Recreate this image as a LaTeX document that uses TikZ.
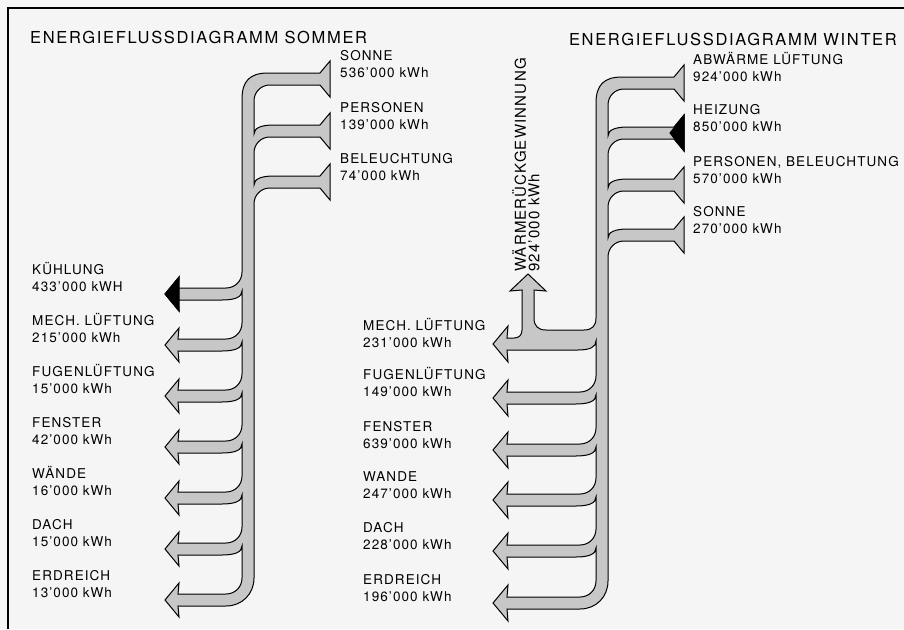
\documentclass[tikz,border=0pt]{standalone}
\usepackage{fontspec}
\setmainfont{TeX Gyre Heros}[LetterSpace=8]
\newfontfamily\titlefont{TeX Gyre Heros}[LetterSpace=10]
\usepackage{tikz}

\tikzset{
  band/.style={draw=black, line width=1pt, fill=black!22},
  blacktip/.style={draw=black, line width=1pt, fill=black},
  flowtext/.style={anchor=base west, align=left, inner sep=0pt,
    font=\fontsize{13.5}{16.5}\selectfont},
  titletext/.style={inner sep=0pt, font=\titlefont\fontsize{16.5}{20}\selectfont},
}

\begin{document}
\begin{tikzpicture}[x=1pt, y=-1pt]
  % paper and frame
  \fill[black!4] (0,0) rectangle (904,629);
  \useasboundingbox (0,0) rectangle (904,629);
  \draw[line width=1.1pt] (8,629) -- (8,8) -- (904,8);

  % titles
  \node[titletext, anchor=base west] (titleS) at (30,43) {ENERGIEFLUSSDIAGRAMM SOMMER};
  \node[titletext, anchor=base east] (titleW) at (897,45) {ENERGIEFLUSSDIAGRAMM WINTER};

  % summer flow: trunk, outlets to the left, sources from the right
  \draw[band] (320,73) -- (268,73) .. controls (250,73) and (242,81) .. (242,99)
    foreach \c in {294,345,396,447,498,549} {
      -- (242,\c-22) .. controls (242,\c-13) and (235,\c-6) .. (226,\c-6) -- (178,\c-6)
      -- (179,\c-17) -- (165,\c) -- (179,\c+17) -- (178,\c+6)
      -- (222,\c+6) .. controls (235,\c+6) and (242,\c+3) .. (242,\c-3)
    }
    -- (242,578) .. controls (242,587) and (235,594) .. (226,594) -- (178,594)
    -- (179,583) -- (165,600) -- (179,617) -- (178,606)
    -- (226,606) .. controls (242,606) and (254,594) .. (254,578)
    foreach \c in {182,131} {
      -- (254,\c+22) .. controls (254,\c+13) and (261,\c+6) .. (270,\c+6) -- (320,\c+6)
      -- (330,\c+18) -- (330,\c-18) -- (320,\c-6)
      -- (274,\c-6) .. controls (261,\c-6) and (254,\c-3) .. (254,\c+3)
    }
    -- (254,101) .. controls (254,92) and (261,85) .. (270,85) -- (320,85)
    -- (330,97) -- (330,61) -- cycle;
  \draw[blacktip] (165,294) -- (179,277) -- (179,311) -- cycle;

  % winter flow: same, with heat recovery going up
  \draw[band] (674,77) -- (622,77) .. controls (604,77) and (596,85) .. (596,103)
    -- (596,318) .. controls (596,326) and (592,330) .. (584,330)
    -- (546,330) .. controls (538,330) and (534,326) .. (534,318) -- (534,290)
    -- (546,291) -- (528,274) -- (510,291) -- (522,290)
    -- (522,330) .. controls (522,335) and (519,338) .. (514,338) -- (507,338)
    -- (508,326) -- (493,344) -- (508,362) -- (507,350)
    -- (578,350) .. controls (590,350) and (596,347) .. (596,341)
    foreach \c in {398,450,500,551} {
      -- (596,\c-22) .. controls (596,\c-13) and (589,\c-6) .. (580,\c-6) -- (507,\c-6)
      -- (508,\c-18) -- (493,\c) -- (508,\c+18) -- (507,\c+6)
      -- (576,\c+6) .. controls (589,\c+6) and (596,\c+3) .. (596,\c-3)
    }
    -- (596,581) .. controls (596,590) and (589,597) .. (580,597) -- (507,597)
    -- (508,585) -- (493,603) -- (508,621) -- (507,609)
    -- (580,609) .. controls (596,609) and (608,597) .. (608,581)
    foreach \c in {235,185,133} {
      -- (608,\c+22) .. controls (608,\c+13) and (615,\c+6) .. (624,\c+6) -- (674,\c+6)
      -- (684,\c+18) -- (684,\c-18) -- (674,\c-6)
      -- (628,\c-6) .. controls (615,\c-6) and (608,\c-3) .. (608,\c+3)
    }
    -- (608,105) .. controls (608,96) and (615,89) .. (624,89) -- (674,89)
    -- (684,101) -- (684,65) -- cycle;
  \draw[blacktip] (684,115) -- (684,151) -- (670,133) -- cycle;

  % summer labels
  \foreach \c/\name/\val in {79/SONNE/536'000 kWh, 131/PERSONEN/139'000 kWh,
      182/BELEUCHTUNG/74'000 kWh}
    \node[flowtext] (sin-\c) at (340,\c-2) {\name\\\val};
  \foreach \c/\name/\val in {294/KÜHLUNG/433'000 kWH, 345/MECH. LÜFTUNG/215'000 kWh,
      396/FUGENLÜFTUNG/15'000 kWh, 447/FENSTER/42'000 kWh, 498/WÄNDE/16'000 kWh,
      549/DACH/15'000 kWh, 600/ERDREICH/13'000 kWh}
    \node[flowtext] (sout-\c) at (32,\c-3) {\name\\\val};

  % winter labels
  \foreach \c/\name/\val in {83/ABWÄRME LÜFTUNG/924'000 kWh, 133/HEIZUNG/850'000 kWh,
      185/{PERSONEN, BELEUCHTUNG}/570'000 kWh, 235/SONNE/270'000 kWh}
    \node[flowtext] (win-\c) at (693,\c-2) {\name\\\val};
  \foreach \c/\name/\val in {349/MECH. LÜFTUNG/231'000 kWh, 398/FUGENLÜFTUNG/149'000 kWh,
      450/FENSTER/639'000 kWh, 500/WANDE/247'000 kWh, 551/DACH/228'000 kWh,
      603/ERDREICH/196'000 kWh}
    \node[flowtext] (wout-\c) at (363,\c-2) {\name\\\val};
  \node[flowtext, rotate=90, anchor=west, font=\fontsize{15}{13.5}\selectfont]
    (wrg) at (526,272) {WÄRMERÜCKGEWINNUNG\\924'000 kWh};
\end{tikzpicture}
\end{document}
